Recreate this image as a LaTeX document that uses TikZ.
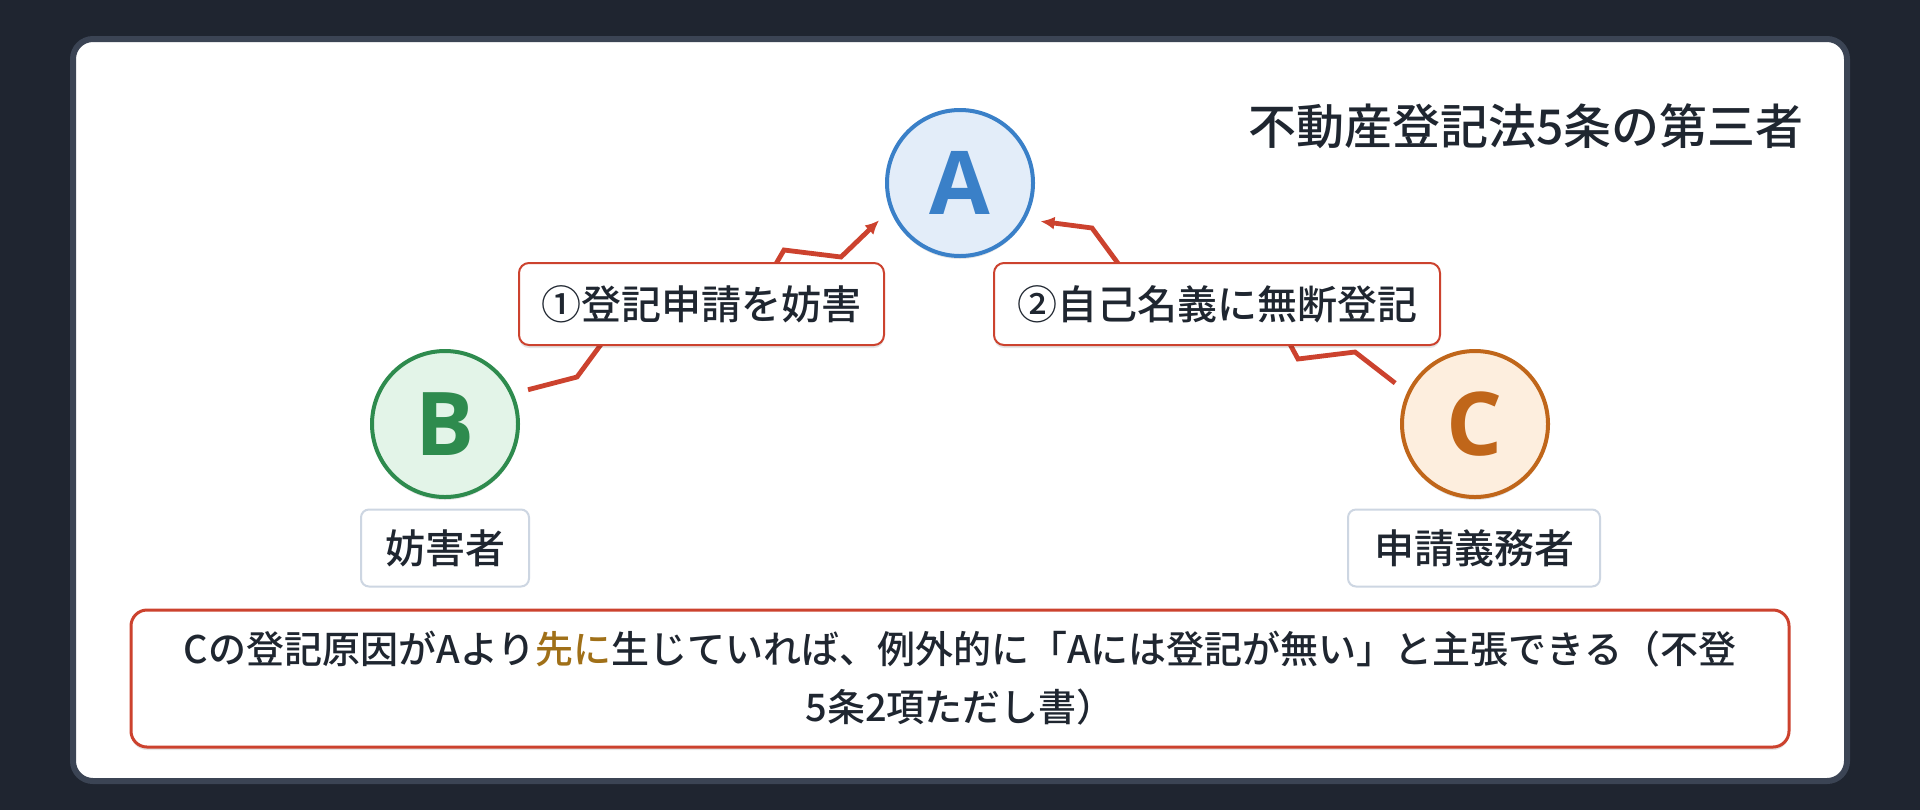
\documentclass[tikz,border=0pt]{standalone}
\usepackage{fontspec}
\IfFontExistsTF{Noto Sans CJK JP Medium}
    {\setmainfont{Noto Sans CJK JP Medium}[BoldFont={Noto Sans CJK JP Bold}]}
    {\setmainfont{Noto Sans CJK JP}}
\newfontfamily\letterfont{Open Sans}
\usepackage{tikz}
\usetikzlibrary{arrows.meta,shadows}
\definecolor{bgdark}{RGB}{31,37,48}
\definecolor{panelline}{RGB}{59,68,84}
\definecolor{inkdark}{RGB}{31,38,48}
\definecolor{ablue}{RGB}{58,128,200}
\definecolor{afill}{RGB}{227,237,249}
\definecolor{bgreen}{RGB}{46,139,78}
\definecolor{bfill}{RGB}{227,244,232}
\definecolor{corange}{RGB}{192,102,26}
\definecolor{cfill}{RGB}{253,238,222}
\definecolor{actred}{RGB}{204,66,46}
\definecolor{rolegray}{RGB}{205,214,226}
\definecolor{goldtext}{RGB}{160,112,24}

\begin{document}
\begin{tikzpicture}[x=0.5pt,y=-0.5pt,
    softshadow/.style={drop shadow={shadow xshift=0pt,shadow yshift=-1.5pt,opacity=0.10,fill=black}},
    party/.style={circle, line width=2pt, minimum size=73pt, inner sep=0pt, softshadow,
        font=\letterfont\fontsize{44}{44}\selectfont\bfseries},
    rolebox/.style={draw=rolegray, line width=1pt, rounded corners=4pt, fill=white,
        minimum height=38.5pt, inner sep=0pt, text=inkdark, font=\fontsize{20}{20}\selectfont},
    actbox/.style={draw=actred, line width=1pt, rounded corners=5pt, fill=white, softshadow,
        minimum height=41pt, inner sep=0pt, text=inkdark, font=\fontsize{20}{20}\selectfont},
    link/.style={actred, line width=2.4pt, -{Latex[length=7pt,width=6.5pt]},
        shorten <=7.5pt, shorten >=7.5pt}]

    \useasboundingbox (0,0) rectangle (1920,810);
    \fill[bgdark] (0,0) rectangle (1920,810);
    \draw[panelline, line width=3pt, fill=white, rounded corners=10pt] (73,39) rectangle (1847,781);

    \node[anchor=east, inner sep=0pt, text=inkdark, font=\fontsize{24}{24}\selectfont] (title) at (1804,126) {不動産登記法5条の第三者};

    \node[party, draw=ablue, fill=afill, text=ablue] (A) at (960,183) {A};
    \node[party, draw=bgreen, fill=bfill, text=bgreen] (B) at (445,424) {B};
    \node[party, draw=corange, fill=cfill, text=corange] (C) at (1475,424) {C};

    \coordinate (b1) at (577,377);
    \coordinate (b2) at (630,305);
    \coordinate (b3) at (755,300);
    \coordinate (b4) at (784,250);
    \coordinate (b5) at (841,257);
    \draw[link] (B.24) -- (b1) -- (b2) -- (b3) -- (b4) -- (b5) -- (A.201);

    \coordinate (c1) at (1355,352);
    \coordinate (c2) at (1298,359);
    \coordinate (c3) at (1266,300);
    \coordinate (c4) at (1145,300);
    \coordinate (c5) at (1092,228);
    \draw[link] (C.155) -- (c1) -- (c2) -- (c3) -- (c4) -- (c5) -- (A.331);

    \node[actbox, minimum width=182.5pt] (obstruct) at (701.5,304) {①登記申請を妨害};
    \node[actbox, minimum width=223pt] (selfreg) at (1217,304) {②自己名義に無断登記};

    \node[rolebox, minimum width=84pt] (roleB) at (445,548) {妨害者};
    \node[rolebox, minimum width=126pt] (roleC) at (1474,548) {申請義務者};

    \node[draw=actred, line width=1.5pt, rounded corners=8pt, fill=white, softshadow,
        minimum width=829pt, minimum height=68.5pt, inner sep=0pt, align=center, text=inkdark,
        font=\fontsize{19}{29}\selectfont] (note) at (960,678.5)
        {Cの登記原因がAより\textcolor{goldtext}{先に}生じていれば、例外的に「Aには登記が無い」と主張できる（不登\\5条2項ただし書）};
\end{tikzpicture}
\end{document}
